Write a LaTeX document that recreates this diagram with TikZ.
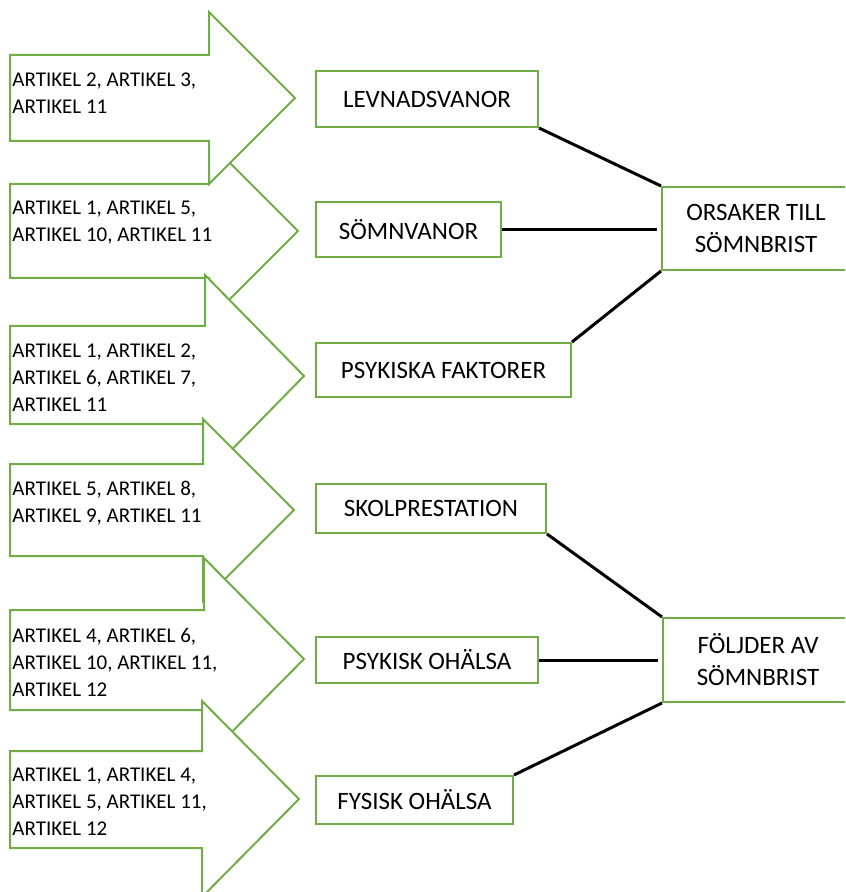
\documentclass[tikz,border=0pt]{standalone}
\usepackage{fontspec}
\setmainfont{Carlito}
\usepackage{tikz}
\usepackage{xcolor}
\definecolor{ColGreen}{RGB}{112,173,71}
\tikzstyle{ArrowShape}=[draw=ColGreen,fill=white,line width=1pt]
\tikzstyle{ArrowText}=[anchor=west,align=left,inner sep=0pt,
font=\fontsize{10.5}{13.5}\selectfont]
\tikzstyle{BoxNode}=[rectangle,draw=ColGreen,fill=white,line width=1pt,inner sep=0pt,
align=center,font=\fontsize{12.5}{16}\selectfont]
\tikzstyle{LinkLine}=[black,line width=1.5pt]

\begin{document}
\begin{tikzpicture}[x=0.5pt,y=-0.5pt]
        \useasboundingbox(0,0)rectangle(845,892);
        \clip(0,0)rectangle(845,892);
        % arrows
        \filldraw[ArrowShape](10,184)--(209,184)--(209,142)--(298,231)--(209,320)--(209,278)--(10,278)--cycle;
        \filldraw[ArrowShape](10,55)--(209,55)--(209,12)--(295,98)--(209,184)--(209,141)--(10,141)--cycle;
        \filldraw[ArrowShape](10,326)--(205,326)--(205,275)--(304,376)--(205,477)--(205,424)--(10,424)--cycle;
        \filldraw[ArrowShape](10,464)--(203,464)--(203,419)--(294,510)--(203,601)--(203,556)--(10,556)--cycle;
        \filldraw[ArrowShape](10,610)--(204,610)--(204,558)--(304,659)--(204,760)--(204,710)--(10,710)--cycle;
        \filldraw[ArrowShape](10,751)--(202,751)--(202,701)--(299,799)--(202,897)--(202,848)--(10,848)--cycle;
        \node[ArrowText](artA)at(12,93){ARTIKEL 2, ARTIKEL 3,\\ARTIKEL 11};
        \node[ArrowText](artB)at(12,223){ARTIKEL 1, ARTIKEL 5,\\ARTIKEL 10, ARTIKEL 11};
        \node[ArrowText](artC)at(12,378){ARTIKEL 1, ARTIKEL 2,\\ARTIKEL 6, ARTIKEL 7,\\ARTIKEL 11};
        \node[ArrowText](artD)at(12,503){ARTIKEL 5, ARTIKEL 8,\\ARTIKEL 9, ARTIKEL 11};
        \node[ArrowText](artE)at(12,662){ARTIKEL 4, ARTIKEL 6,\\ARTIKEL 10, ARTIKEL 11,\\ARTIKEL 12};
        \node[ArrowText](artF)at(12,802){ARTIKEL 1, ARTIKEL 4,\\ARTIKEL 5, ARTIKEL 11,\\ARTIKEL 12};
        % boxes
        \node[BoxNode,minimum width=111pt,minimum height=28pt](lev)at(427,99){LEVNADSVANOR};
        \node[BoxNode,minimum width=92.5pt,minimum height=27.5pt](somn)at(408.5,229.5){SÖMNVANOR};
        \node[BoxNode,minimum width=127.5pt,minimum height=27pt](psyk)at(443.5,370){PSYKISKA FAKTORER};
        \node[BoxNode,minimum width=94pt,minimum height=41.5pt](orsak)at(756,228.5){ORSAKER TILL\\SÖMNBRIST};
        \node[BoxNode,minimum width=115pt,minimum height=24.5pt](skol)at(431,508.5){SKOLPRESTATION};
        \node[BoxNode,minimum width=111pt,minimum height=23pt](ohals)at(427,660){PSYKISK OHÄLSA};
        \node[BoxNode,minimum width=98.5pt,minimum height=24pt](fys)at(414.5,800){FYSISK OHÄLSA};
        \node[BoxNode,minimum width=95pt,minimum height=42pt](foljd)at(758,660){FÖLJDER AV\\SÖMNBRIST};
        % links
        \draw[LinkLine](lev.south east)--(orsak.north west);
        \draw[LinkLine,shorten >=2pt](somn.east)--(somn.east-|orsak.west);
        \draw[LinkLine](psyk.north east)--(orsak.south west);
        \draw[LinkLine](skol.south east)--(foljd.north west);
        \draw[LinkLine,shorten >=2pt](ohals.east)--(ohals.east-|foljd.west);
        \draw[LinkLine](fys.north east)--(foljd.south west);
    \end{tikzpicture}
\end{document}
